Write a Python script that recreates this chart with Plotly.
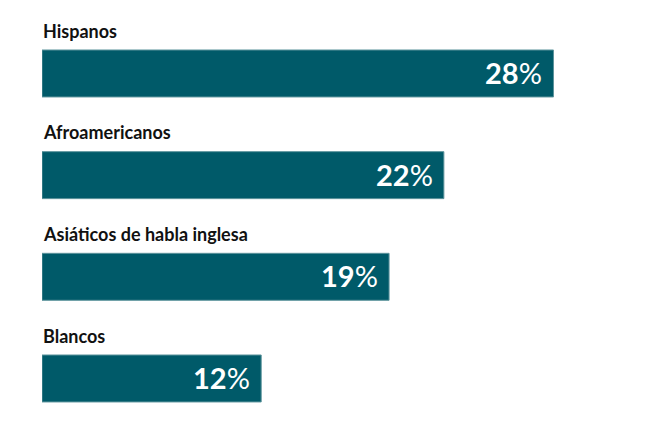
import plotly.graph_objects as go

categories = ["Hispanos", "Afroamericanos", "Asiáticos de habla inglesa", "Blancos"]
values = [28, 22, 19, 12]
value_labels = ["28", "22", "19", "12"]

positions = list(range(len(categories)))
bar_color = "#005A69"
font_family = "Lato, 'Open Sans', sans-serif"

fig = go.Figure()
fig.add_trace(go.Bar(
    x=values,
    y=positions,
    orientation="h",
    width=0.462,
    marker=dict(color=bar_color, line=dict(color="#5d949c", width=1)),
    hoverinfo="skip",
))

annotations = []
for pos, cat, val, lab in zip(positions, categories, values, value_labels):
    annotations.append(dict(
        x=0, y=pos - 0.42, xref="x", yref="y",
        text="<b>" + cat + "</b>", showarrow=False,
        xanchor="left", yanchor="middle", xshift=-1,
        font=dict(family=font_family, size=18, color="#111111"),
    ))
    annotations.append(dict(
        x=val, y=pos, xref="x", yref="y",
        text="<b>" + lab + "</b>%", showarrow=False,
        xanchor="right", yanchor="middle", xshift=-9, yshift=1,
        font=dict(family=font_family, size=29, color="#ffffff"),
    ))

fig.update_layout(
    width=650, height=427,
    margin=dict(l=34, r=68, t=0, b=0),
    paper_bgcolor="white", plot_bgcolor="white",
    showlegend=False,
    xaxis=dict(range=[0, 30], visible=False, fixedrange=True),
    yaxis=dict(range=[3.556, -0.644], visible=False, fixedrange=True),
    annotations=annotations,
)

fig.write_html("out.html")
